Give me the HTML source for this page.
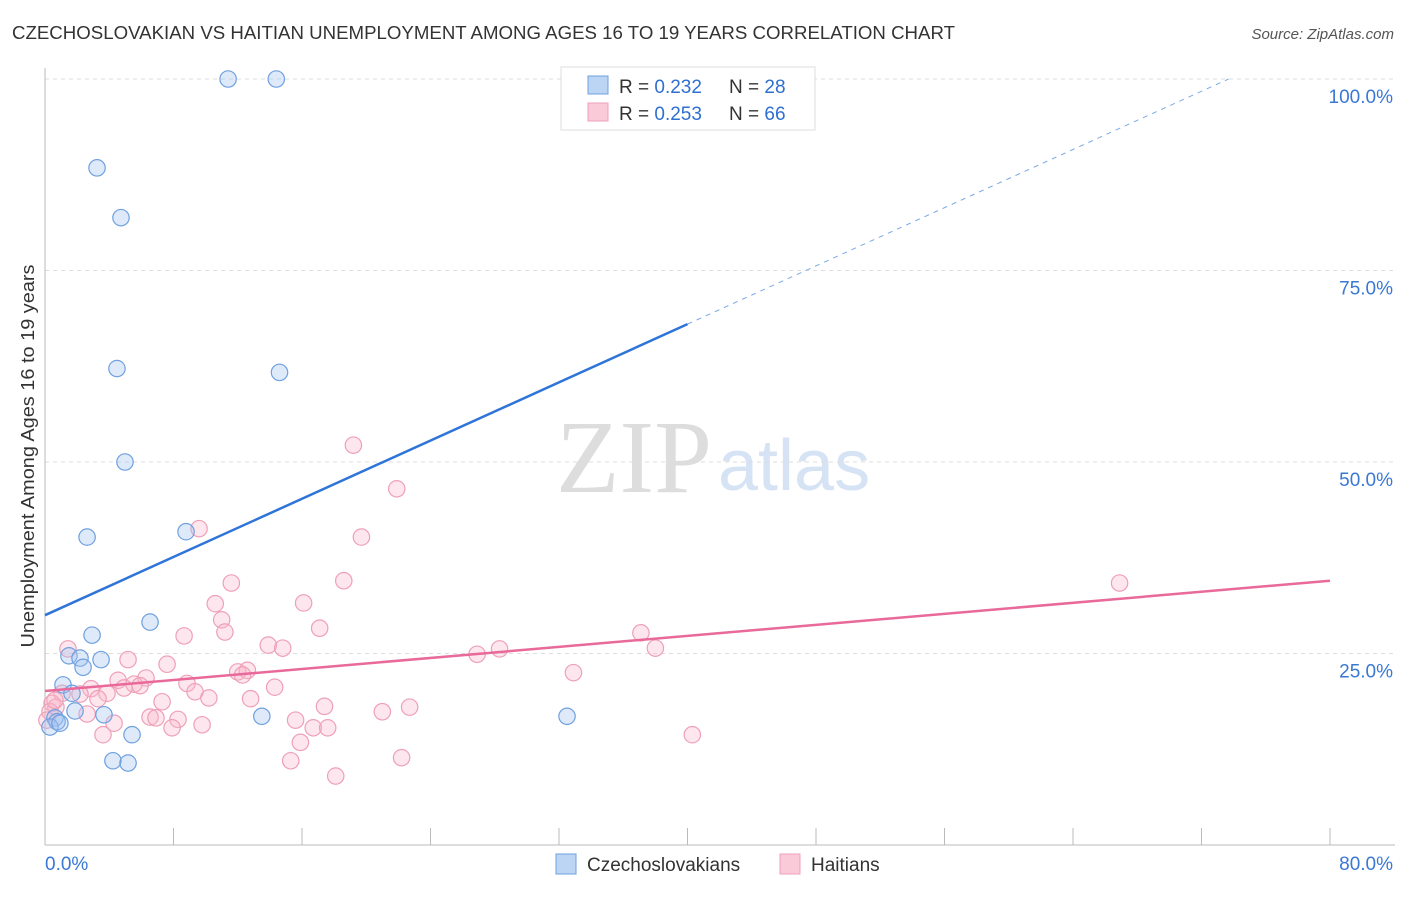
<!DOCTYPE html>
<html><head><meta charset="utf-8"><style>
body{margin:0;background:#fff;font-family:"Liberation Sans",sans-serif;}
svg text{font-family:"Liberation Sans",sans-serif;}
</style></head><body>
<svg id="chart" width="1406" height="892" xmlns="http://www.w3.org/2000/svg">
<text x="12" y="39" font-size="18" fill="#333" textLength="943" lengthAdjust="spacingAndGlyphs">CZECHOSLOVAKIAN VS HAITIAN UNEMPLOYMENT AMONG AGES 16 TO 19 YEARS CORRELATION CHART</text>
<text x="1394" y="39" font-size="15" fill="#555" font-style="italic" text-anchor="end">Source: ZipAtlas.com</text>
<text x="712" y="492" font-size="104" fill="#ddd" text-anchor="end" style="font-family:'Liberation Serif',serif">ZIP</text>
<text x="718" y="490" font-size="72" fill="#d5e3f5">atlas</text>
<g id="grid"></g><g id="axes"></g><g id="marks"></g><g id="lines"></g>
<g>
<rect x="561" y="67" width="254" height="63" fill="#fff" stroke="#ddd"/>
<rect x="588" y="76" width="20" height="18" fill="#bcd5f5" stroke="#6fa0e0"/>
<rect x="588" y="103" width="20" height="18" fill="#fbcad8" stroke="#eea0b8"/>
<text x="619" y="93" font-size="19" fill="#333">R = <tspan fill="#2f6fd0">0.232</tspan></text>
<text x="729" y="93" font-size="19" fill="#333">N = <tspan fill="#2f6fd0">28</tspan></text>
<text x="619" y="120" font-size="19" fill="#333">R = <tspan fill="#2f6fd0">0.253</tspan></text>
<text x="729" y="120" font-size="19" fill="#333">N = <tspan fill="#2f6fd0">66</tspan></text>
</g>
<g>
<rect x="556" y="854" width="20" height="20" fill="#bcd5f5" stroke="#6fa0e0"/>
<text x="587" y="871" font-size="19" fill="#333">Czechoslovakians</text>
<rect x="780" y="854" width="20" height="20" fill="#fbcad8" stroke="#eea0b8"/>
<text x="811" y="871" font-size="19" fill="#333">Haitians</text>
</g>
</svg>
<script>
const yTicks=[25,50,75,100];
const yTickLabels=["25.0%","50.0%","75.0%","100.0%"];
const xTicks=[0,8,16,24,32,40,48,56,64,72,80];
const xEndLabels=["0.0%","80.0%"];
const czechX=[11.4,14.4,3.24,4.73,4.48,14.6,4.98,2.62,8.78,6.54,2.93,1.49,2.18,2.37,3.49,1.12,1.68,1.87,3.67,5.42,4.23,5.17,13.5,32.5,0.62,0.75,0.31,0.93];
const czechY=[100,100,88.4,81.9,62.2,61.7,50.0,40.2,40.9,29.1,27.4,24.7,24.4,23.2,24.2,20.9,19.8,17.5,17.0,14.4,11.0,10.7,16.8,16.8,16.6,16.1,15.4,15.9];
const haitiX=[19.2,21.9,9.59,19.7,66.9,11.6,18.6,10.6,16.1,11.0,11.2,17.1,8.66,37.1,38.0,1.43,13.9,14.8,28.3,26.9,5.17,7.60,32.9,12.0,12.6,12.3,6.29,4.55,8.84,5.54,5.92,4.92,14.3,2.86,9.34,3.86,1.06,2.18,12.8,3.30,7.29,10.2,0.44,0.68,17.4,22.7,21.0,2.62,6.54,6.91,8.28,15.6,4.30,9.78,7.91,16.7,17.6,3.61,15.9,40.3,15.3,22.2,18.1,0.31,0.12,0.62];
const haitiY=[52.2,46.5,41.3,40.2,34.2,34.2,34.5,31.5,31.6,29.4,27.8,28.3,27.3,27.7,25.7,25.6,26.1,25.7,25.6,24.9,24.2,23.6,22.5,22.6,22.8,22.2,21.8,21.5,21.1,21.0,20.8,20.5,20.6,20.4,20.0,19.8,19.8,19.7,19.1,19.1,18.7,19.2,18.5,18.0,18.1,18.0,17.4,17.1,16.7,16.6,16.4,16.3,15.9,15.7,15.3,15.3,15.3,14.4,13.4,14.4,11.0,11.4,9.0,17.4,16.3,18.9];
const czechTrend=[30.0,0.95];
const haitiTrend=[20.1,0.18];
const X0=45,X1=1330,Y0=845,Ytop=79;
const sx=v=>X0+(v/80)*(X1-X0);
const sy=v=>Y0-(v/100)*(Y0-Ytop);
const NS="http://www.w3.org/2000/svg";
function mk(parent,tag,attrs){const e=document.createElementNS(NS,tag);for(const k in attrs)e.setAttribute(k,attrs[k]);document.getElementById(parent).appendChild(e);return e;}
yTicks.forEach((t,i)=>{
 const g=mk('grid','line',{x1:X0,x2:1395,y1:sy(t),y2:sy(t),stroke:'#ddd','stroke-dasharray':'4,4'});
 
 
 const l=mk('axes','text',{x:1393,y:sy(t)+24,'font-size':19,fill:'#3a78d4','text-anchor':'end'});
 l.textContent=yTickLabels[i];
 
 
});
const ya=mk('axes','line',{x1:X0,x2:X0,y1:68,y2:Y0,stroke:'#bbb'});


const xa=mk('axes','line',{x1:X0,x2:1395,y1:Y0,y2:Y0,stroke:'#bbb'});


xTicks.forEach(t=>{
 const tk=mk('axes','line',{x1:sx(t),x2:sx(t),y1:828,y2:Y0,stroke:'#bbb'});
 
 
});
const xl0=mk('axes','text',{x:45,y:870,'font-size':19,fill:'#3a78d4'});xl0.textContent=xEndLabels[0];


const xl1=mk('axes','text',{x:1393,y:870,'font-size':19,fill:'#3a78d4','text-anchor':'end'});xl1.textContent=xEndLabels[1];


const yt=mk('axes','text',{x:0,y:0,'font-size':18,fill:'#333','text-anchor':'middle',textLength:383,lengthAdjust:'spacingAndGlyphs',transform:'translate(34,456) rotate(-90)'});
yt.textContent='Unemployment Among Ages 16 to 19 years';


haitiX.forEach((x,i)=>{
 const c=mk('marks','circle',{cx:sx(x),cy:sy(haitiY[i]),r:8.2,fill:'rgba(248,182,204,0.35)',stroke:'#eea0b8','stroke-width':1.2});
 
 
});
czechX.forEach((x,i)=>{
 const c=mk('marks','circle',{cx:sx(x),cy:sy(czechY[i]),r:8.2,fill:'rgba(160,196,240,0.35)',stroke:'#6fa0e0','stroke-width':1.2});
 
 
});
const cy=x=>czechTrend[0]+czechTrend[1]*x;
const xEndDash=(100-czechTrend[0])/czechTrend[1];
const bl=mk('lines','line',{x1:sx(0),y1:sy(cy(0)),x2:sx(40),y2:sy(cy(40)),stroke:'#2f74d8','stroke-width':2.5});


const bd=mk('lines','line',{x1:sx(40),y1:sy(cy(40)),x2:sx(xEndDash),y2:sy(100),stroke:'#7aa8e6','stroke-width':1,'stroke-dasharray':'5,5'});


const hy=x=>haitiTrend[0]+haitiTrend[1]*x;
const pl=mk('lines','line',{x1:sx(0),y1:sy(hy(0)),x2:sx(80),y2:sy(hy(80)),stroke:'#e8699a','stroke-width':2.5});


</script>
</body></html>
